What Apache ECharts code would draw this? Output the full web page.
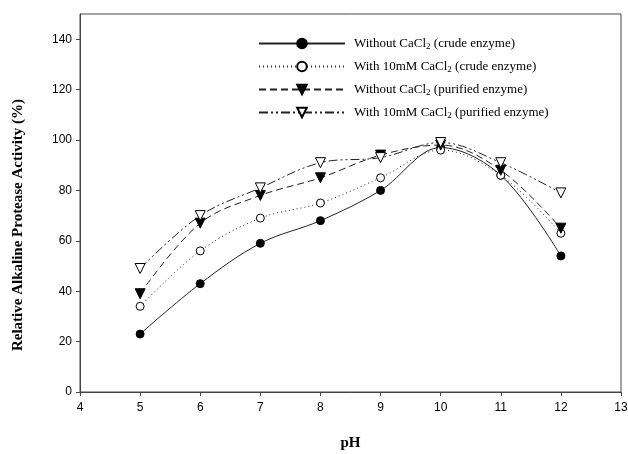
<!DOCTYPE html>
<html>
<head>
<meta charset="utf-8">
<script src="https://cdn.jsdelivr.net/npm/echarts@6/dist/echarts.min.js"></script>
<style>
  html, body { margin: 0; padding: 0; background: #fff; }
  #chart { width: 628px; height: 454px; }
</style>
</head>
<body>
<div id="chart"></div>
<script>
// pH values and activities
var ph = [5, 6, 7, 8, 9, 10, 11, 12];
var crudeNoCa = [23, 43, 59, 68, 80, 97, 86, 54];
var crudeCa = [34, 56, 69, 75, 85, 96, 86, 63];
var pureNoCa = [39, 67, 78, 85, 94, 98, 88, 65];
var pureCa = [49, 70, 81, 91, 93, 99, 91, 79];
var yTicks = [0, 20, 40, 60, 80, 100, 120, 140];
var names = [
  'Without CaCl{s|2} (crude enzyme)',
  'With 10mM CaCl{s|2} (crude enzyme)',
  'Without CaCl{s|2} (purified enzyme)',
  'With 10mM CaCl{s|2} (purified enzyme)'
];

function pairs(ys) {
  return ph.map(function (x, i) { return [x, ys[i]]; });
}

function mkSeries(name, ys, symbol, filled, dash, size, rotate) {
  return {
    name: name,
    type: 'line',
    data: pairs(ys),
    smooth: 0.35,
    symbol: symbol,
    symbolSize: size,
    symbolRotate: rotate || 0,
    showAllSymbol: true,
    lineStyle: { color: '#222', width: 1, type: dash },
    itemStyle: {
      color: filled ? '#000' : '#fff',
      borderColor: '#000',
      borderWidth: 1
    },
    emphasis: { disabled: true }
  };
}

var myChart = echarts.init(document.getElementById('chart'));
var txt = { fontFamily: 'Liberation Sans, Arial, sans-serif', fontSize: 12, color: '#000' };
var serif = 'Liberation Serif, Times New Roman, serif';

myChart.setOption({
  animation: false,
  backgroundColor: '#fff',
  grid: {
    left: 80, right: 7, top: 14, bottom: 62,
    outerBoundsMode: 'none',
    show: true, borderColor: '#444', borderWidth: 1
  },
  legend: {
    orient: 'vertical',
    left: 253,
    top: 32,
    itemWidth: 86,
    itemHeight: 12,
    itemGap: 9,
    data: names,
    textStyle: {
      fontFamily: serif,
      fontSize: 13,
      color: '#000',
      padding: [0, 0, 0, 4],
      rich: {
        s: {
          fontFamily: serif,
          fontSize: 9,
          color: '#000',
          verticalAlign: 'bottom',
          padding: [6, 0, 0, 0]
        }
      }
    }
  },
  xAxis: {
    type: 'value',
    min: 4, max: 13, interval: 1,
    name: 'pH',
    nameLocation: 'middle',
    nameGap: 44,
    nameTextStyle: { fontFamily: serif, fontSize: 15, fontWeight: 'bold', color: '#000' },
    axisLine: { onZero: false, lineStyle: { color: '#444' } },
    axisTick: { length: 4, lineStyle: { color: '#444' } },
    axisLabel: Object.assign({ margin: 10 }, txt),
    splitLine: { show: false }
  },
  yAxis: {
    type: 'value',
    min: 0, max: 150, interval: 10,
    name: 'Relative Alkaline Protease Activity (%)',
    nameLocation: 'middle',
    nameGap: 54,
    nameTextStyle: { fontFamily: serif, fontSize: 15, fontWeight: 'bold', color: '#000', padding: [0, 44, 0, 0] },
    axisLine: { lineStyle: { color: '#444' } },
    axisTick: { length: 4, customValues: yTicks, lineStyle: { color: '#444' } },
    axisLabel: Object.assign({ margin: 8, customValues: yTicks }, txt),
    splitLine: { show: false }
  },
  series: [
    mkSeries(names[0], crudeNoCa, 'circle', true, 'solid', 8),
    mkSeries(names[1], crudeCa, 'circle', false, [1, 3], 8),
    mkSeries(names[2], pureNoCa, 'triangle', true, [7, 4], 10, 180),
    mkSeries(names[3], pureCa, 'triangle', false, [9, 3, 2, 3, 2, 3], 10, 180)
  ]
});
</script>
</body>
</html>
